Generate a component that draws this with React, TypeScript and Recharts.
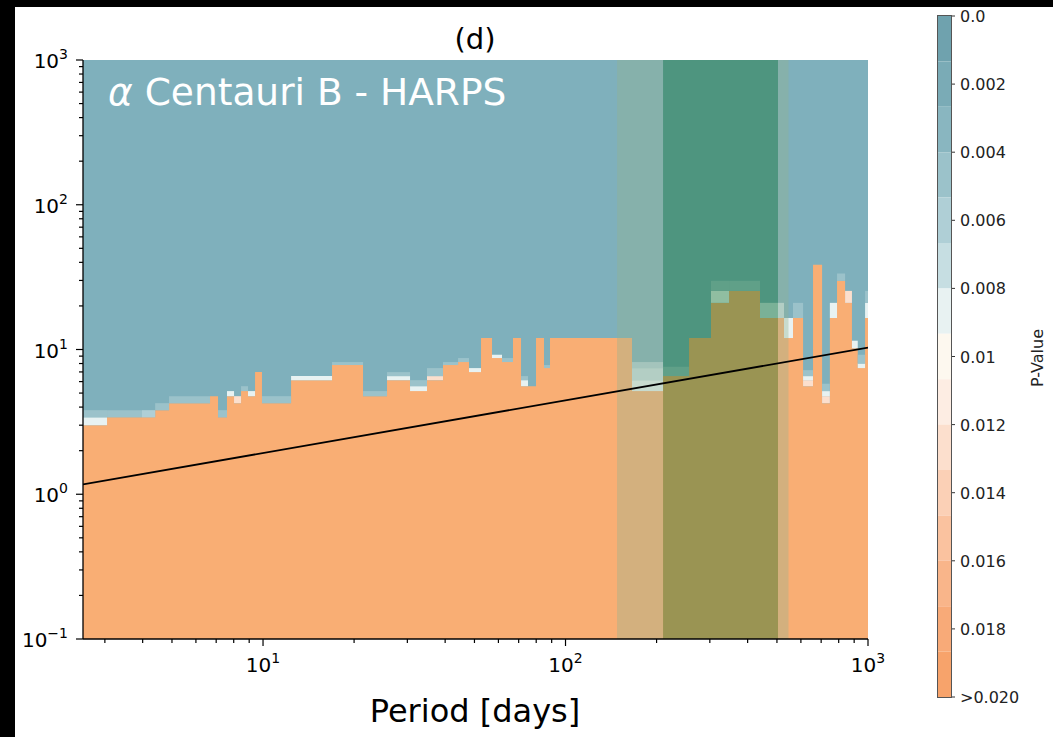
import React from 'react';
import { ComposedChart, Area, Line, XAxis, YAxis, CartesianGrid, BarChart, Bar } from 'recharts';

// period bin edges [days] and detection threshold (orange top) per bin
const binEdges = [2.54, 3.05, 3.98, 4.4, 4.89, 6.68, 7.1, 7.6, 8.02, 8.46, 8.92, 9.41, 9.92, 12.38, 16.91, 21.41, 25.7, 30.62, 34.84, 39.36, 44.13, 47.97, 52.56, 57.15, 61.67, 67.05, 71.28, 75.16, 79.89, 84.89, 88.87, 165.9, 210.1, 256.1, 302.7, 347.2, 439.5, 527.7, 565, 610, 658, 705, 748, 790, 840, 885, 925, 978, 1000];
const thresholdK = [3.0, 3.4, 3.4, 3.81, 4.26, 4.76, 3.4, 4.76, 4.26, 5.16, 4.76, 6.98, 4.26, 6.14, 7.81, 4.76, 6.14, 5.16, 6.14, 7.81, 8.19, 6.98, 12.0, 8.73, 8.19, 12.0, 5.58, 5.58, 12.0, 7.44, 12.0, 5.16, 6.55, 12.0, 21.0, 25.4, 16.5, 12.0, 16.5, 5.58, 38.5, 4.26, 16.5, 29.8, 21.0, 10.2, 7.44, 16.5];

// transition cells just above the threshold (bin index, low, high, p-value)
const cellBin = [0, 0, 1, 2, 3, 4, 6, 7, 8, 9, 10, 12, 13, 14, 15, 16, 16, 17, 17, 18, 18, 19, 20, 21, 23, 24, 26, 26, 29, 31, 31, 31, 32, 34, 34, 35, 36, 37, 38, 39, 39, 39, 41, 41, 41, 42, 43, 44, 45, 46, 46, 47, 47];
const cellLow = [3.0, 3.4, 3.4, 3.4, 3.81, 4.26, 3.4, 4.76, 4.26, 5.16, 4.76, 4.26, 6.14, 7.81, 4.76, 6.14, 6.55, 5.16, 5.58, 6.14, 6.55, 7.81, 8.19, 6.98, 8.73, 8.19, 5.58, 6.14, 7.44, 5.16, 6.14, 7.44, 6.55, 21.0, 25.4, 25.4, 16.5, 12.0, 16.5, 5.58, 6.14, 6.55, 4.26, 4.76, 5.16, 16.5, 29.8, 21.0, 10.2, 7.44, 8.0, 16.5, 21.0];
const cellHigh = [3.4, 3.81, 3.81, 3.81, 4.26, 4.76, 3.81, 5.16, 4.76, 5.58, 5.16, 4.76, 6.55, 8.19, 5.16, 6.55, 6.98, 5.58, 6.14, 6.55, 7.44, 8.19, 8.73, 7.44, 9.2, 8.73, 6.14, 6.55, 7.81, 6.14, 7.44, 8.19, 7.6, 25.4, 29.8, 29.8, 21.0, 16.5, 21.0, 6.14, 6.55, 7.2, 4.76, 5.16, 5.8, 21.0, 33.5, 25.4, 11.5, 8.0, 9.2, 21.0, 25.4];
const cellP = [0.0088, 0.0048, 0.0045, 0.0058, 0.0048, 0.0045, 0.0045, 0.0088, 0.013, 0.0045, 0.0088, 0.0045, 0.0088, 0.0045, 0.0045, 0.0088, 0.0045, 0.0088, 0.0048, 0.013, 0.0045, 0.0045, 0.0045, 0.0088, 0.0088, 0.0045, 0.0088, 0.0045, 0.0048, 0.0088, 0.0072, 0.0055, 0.0045, 0.0088, 0.0045, 0.0045, 0.0072, 0.0088, 0.0045, 0.013, 0.0088, 0.0045, 0.013, 0.0088, 0.0045, 0.0088, 0.0045, 0.013, 0.0088, 0.0088, 0.0045, 0.0088, 0.0045];

// shaded period windows
const windowStart = [148, 210.1, 504];
const windowEnd = [210.1, 504, 546];

// mass line
const lineP = [2.54, 1000];
const lineK = [1.17, 10.3];

const cbTicks = [0, 0.002, 0.004, 0.006, 0.008, 0.01, 0.012, 0.014, 0.016, 0.018, 0.02];

const levelColors = ['#6fa2ae', '#7aabb6', '#89b6c0', '#9bc2ca', '#afcfd6', '#c6dee2', '#e8f2f2', '#fdf8ef', '#fdede3', '#fcdfcd', '#fbd0b6', '#fac29f', '#f9b58a', '#f8aa78', '#f7a36b'];
const LEVEL = 0.02 / 15;
const pColor = (p: number) => levelColors[Math.min(14, Math.floor(p / LEVEL))];

const windowFill = ['#92b291', '#00691e', '#92b291'];
const windowAlpha = [0.37, 0.38, 0.37];

const FONT = 'DejaVu Sans';

const stepData = thresholdK
  .map((k, i) => ({ x: binEdges[i], v: k }))
  .concat([{ x: binEdges[binEdges.length - 1], v: thresholdK[thresholdK.length - 1] }]);
const lineData = lineP.map((p, i) => ({ x: p, v: lineK[i] }));
const cbRow: Record<string, number | string> = { name: 'p' };
levelColors.forEach((_, i) => { cbRow['l' + i] = LEVEL; });

const decadeTicks = (lo: number, hi: number, min: number, max: number) => {
  const out: number[] = [];
  for (let e = lo; e <= hi; e++) {
    for (let m = 1; m <= 9; m++) {
      const v = m * Math.pow(10, e);
      if (v >= min - 1e-9 && v <= max + 1e-9) out.push(Number(v.toPrecision(3)));
    }
  }
  return out;
};
const xTicks = decadeTicks(0, 3, 2.54, 1000);
const yTicks = decadeTicks(-1, 3, 0.1, 1000);

const isMajor = (v: number) => Math.abs(Math.log10(v) - Math.round(Math.log10(v))) < 1e-6;
const expText = (v: number) => {
  const e = Math.round(Math.log10(v));
  return e < 0 ? '\u2212' + Math.abs(e) : String(e);
};

const XTick = (props: any) => {
  const { x, y, payload } = props;
  const v = payload.value;
  const major = isMajor(v);
  return (
    <g>
      <line x1={x} y1={y} x2={x} y2={y + (major ? 7 : 4)} stroke="#000" strokeWidth={1.2} />
      {major && (
        <text x={x} y={y + 33} textAnchor="middle" fontSize={20} fontFamily={FONT} fill="#000">
          10<tspan dy={-9} fontSize={14}>{expText(v)}</tspan>
        </text>
      )}
    </g>
  );
};

const YTick = (props: any) => {
  const { x, y, payload } = props;
  const v = payload.value;
  const major = isMajor(v);
  return (
    <g>
      <line x1={x} y1={y} x2={x - (major ? 7 : 4)} y2={y} stroke="#000" strokeWidth={1.2} />
      {major && (
        <text x={x - 15} y={y + 8} textAnchor="end" fontSize={20} fontFamily={FONT} fill="#000">
          10<tspan dy={-9} fontSize={14}>{expText(v)}</tspan>
        </text>
      )}
    </g>
  );
};

const cbLabel = (p: number) => {
  if (p === 0) return '0.0';
  if (Math.abs(p - 0.02) < 1e-9) return '>0.020';
  if (Math.abs(p - 0.01) < 1e-9) return '0.01';
  return p.toFixed(3);
};

const CbTick = (props: any) => {
  const { x, y, payload } = props;
  return (
    <g>
      <line x1={x} y1={y} x2={x + 4} y2={y} stroke="#333" strokeWidth={1} />
      <text x={x + 9} y={y + 6} fontSize={16} fontFamily={FONT} fill="#222">
        {cbLabel(payload.value)}
      </text>
    </g>
  );
};

const App: React.FC = () => {
  return (
    <div style={{ position: 'fixed', left: 0, top: 0, width: 1053, height: 737, background: '#000', fontFamily: FONT }}>
      <div style={{ position: 'absolute', left: 15, top: 7, width: 1038, height: 730, background: '#fff' }} />

      <div style={{ position: 'absolute', left: 0, top: 0 }}>
        <ComposedChart width={900} height={737} margin={{ top: 60, right: 32, bottom: 58, left: 13 }}>
          <CartesianGrid fill="#7fb0bc" stroke="none" horizontal={false} vertical={false} />
          <XAxis
            dataKey="x" type="number" scale="log" domain={[2.54, 1000]} allowDataOverflow
            ticks={xTicks} interval={0} tickSize={0} tickMargin={0} tickLine={false}
            tick={(p: any) => <XTick {...p} />} height={40} axisLine={{ stroke: '#000', strokeWidth: 1.3 }}
          />
          <XAxis
            xAxisId="top" orientation="top" dataKey="x" type="number" scale="log" domain={[2.54, 1000]}
            allowDataOverflow tick={false} tickLine={false} height={0} axisLine={{ stroke: '#000', strokeWidth: 1.3 }}
          />
          <YAxis
            type="number" scale="log" domain={[0.1, 1000]} allowDataOverflow
            ticks={yTicks} interval={0} tickSize={0} tickMargin={0} tickLine={false}
            tick={(p: any) => <YTick {...p} />} width={70} axisLine={{ stroke: '#000', strokeWidth: 1.3 }}
          />
          <YAxis
            yAxisId="right" orientation="right" type="number" scale="log" domain={[0.1, 1000]}
            allowDataOverflow tick={false} tickLine={false} width={0} axisLine={{ stroke: '#000', strokeWidth: 1.3 }}
          />

          <Area
            data={stepData} dataKey="v" type="stepAfter" baseValue={0.1}
            fill="#f9ae74" fillOpacity={1} stroke="none" dot={false} activeDot={false} isAnimationActive={false}
          />
          {cellBin.map((b, i) => (
            <Area
              key={'c' + i}
              data={[{ x: binEdges[b], v: cellHigh[i] }, { x: binEdges[b + 1], v: cellHigh[i] }]}
              dataKey="v" type="linear" baseValue={cellLow[i]}
              fill={pColor(cellP[i])} fillOpacity={1} stroke="none" dot={false} activeDot={false} isAnimationActive={false}
            />
          ))}
          {windowStart.map((s, i) => (
            <Area
              key={'w' + i}
              data={[{ x: s, v: 1000 }, { x: windowEnd[i], v: 1000 }]}
              dataKey="v" type="linear" baseValue={0.1}
              fill={windowFill[i]} fillOpacity={windowAlpha[i]} stroke="none" dot={false} activeDot={false} isAnimationActive={false}
            />
          ))}
          <Line
            data={lineData} dataKey="v" type="linear" stroke="#000" strokeWidth={1.8}
            dot={false} activeDot={false} isAnimationActive={false}
          />
        </ComposedChart>
      </div>

      <div style={{ position: 'absolute', left: 930, top: 0 }}>
        <BarChart width={120} height={737} data={[cbRow]} margin={{ top: 16, right: 0, bottom: 40, left: 8 }} barCategoryGap={0} barGap={0}>
          <XAxis dataKey="name" hide />
          <YAxis
            orientation="right" type="number" domain={[0, 0.02]} reversed allowDataOverflow
            ticks={cbTicks} interval={0} tickSize={0} tickMargin={0} tickLine={false} axisLine={false}
            tick={(p: any) => <CbTick {...p} />} width={99}
          />
          {levelColors.map((c, i) => (
            <Bar key={'l' + i} dataKey={'l' + i} stackId="cb" fill={c} isAnimationActive={false} />
          ))}
        </BarChart>
      </div>
      <div style={{ position: 'absolute', left: 937, top: 15, width: 13, height: 681, border: '1px solid #555', pointerEvents: 'none' }} />

      <svg width={1053} height={737} style={{ position: 'absolute', left: 0, top: 0, pointerEvents: 'none' }}>
        <text x={475} y={49} textAnchor="middle" fontSize={29} fontFamily={FONT} fill="#000">(d)</text>
        <text x={108} y={105} fontSize={37.5} fontFamily={FONT} fill="#fff">
          <tspan fontStyle="italic">α</tspan> Centauri B - HARPS
        </text>
        <text x={475} y={722} textAnchor="middle" fontSize={32} fontFamily={FONT} fill="#000">Period [days]</text>
        <text x={1043} y={358} textAnchor="middle" fontSize={16} fontFamily={FONT} fill="#222" transform="rotate(-90 1043 358)">P-Value</text>
      </svg>
    </div>
  );
};

export default App;
